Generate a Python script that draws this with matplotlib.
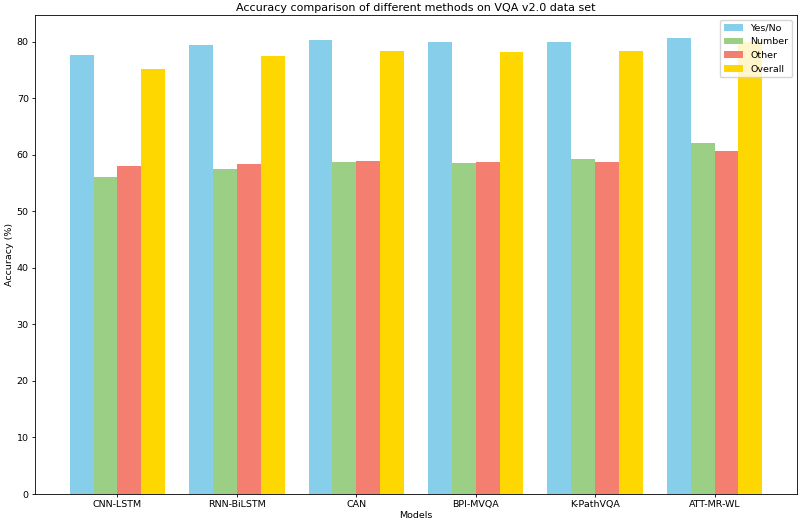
import matplotlib
matplotlib.use("Agg")
import matplotlib.pyplot as plt
import numpy as np

models = ["CNN-LSTM", "RNN-BiLSTM", "CAN", "BPI-MVQA", "K-PathVQA", "ATT-MR-WL"]
yes_no = [77.6, 79.4, 80.3, 79.9, 79.9, 80.7]
number = [56.1, 57.5, 58.7, 58.6, 59.2, 62.1]
other = [58.1, 58.3, 58.9, 58.7, 58.8, 60.7]
overall = [75.1, 77.5, 78.4, 78.2, 78.3, 80.0]

series = [("Yes/No", yes_no, "#87CEEB"),
          ("Number", number, "#9BCF85"),
          ("Other", other, "#F47F70"),
          ("Overall", overall, "#FFD700")]

fig = plt.figure(figsize=(8, 5.23), dpi=100)
ax = fig.add_axes([35/800, 1-494/523, (797-35)/800, (494-15)/523])
x = np.arange(len(models))
w = 0.2
for i, (name, vals, col) in enumerate(series):
    ax.bar(x + (i - 1.5) * w, vals, w, label=name, color=col)

ax.set_xticks(x)
ax.set_xticklabels(models, fontsize=6.8)
ax.tick_params(axis='y', labelsize=6.8)
ax.tick_params(length=2.5, width=0.6, pad=2)
ax.set_xlabel("Models", fontsize=6.8, labelpad=1)
ax.set_ylabel("Accuracy (%)", fontsize=6.8, labelpad=2)
ax.set_title("Accuracy comparison of different methods on VQA v2.0 data set", fontsize=8, pad=3)
ax.legend(loc="upper right", fontsize=6.8)
for s in ax.spines.values():
    s.set_linewidth(0.6)
fig.savefig("out.png", dpi=100)
